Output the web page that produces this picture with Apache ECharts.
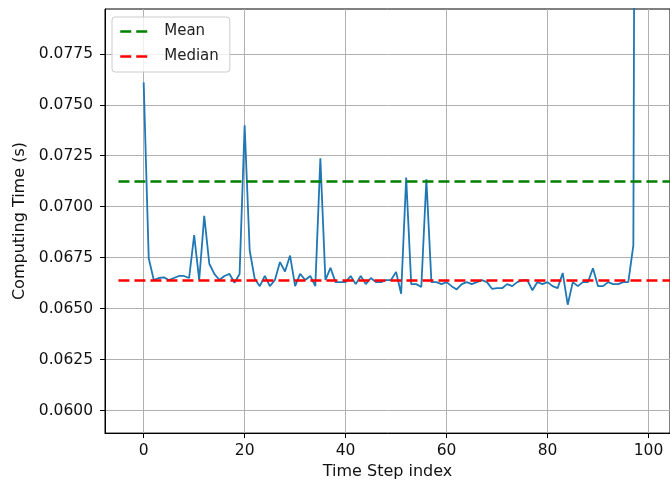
<!DOCTYPE html>
<html>
<head>
<meta charset="utf-8">
<script src="https://cdn.jsdelivr.net/npm/echarts@6/dist/echarts.min.js"></script>
<style>html,body{margin:0;padding:0;background:#fff}#c{width:670px;height:485px}</style>
</head>
<body>
<div id="c"></div>
<script>
// Computing time per time step
const timeSteps = [];
const computingTime = [
  0.0761, 0.06747, 0.0664, 0.0665, 0.06653, 0.0664, 0.0665, 0.0666, 0.0666, 0.0665,
  0.0686, 0.0664, 0.06955, 0.0672, 0.0667, 0.0664, 0.0666, 0.0667, 0.06627, 0.0667,
  0.0740, 0.06785, 0.06646, 0.0661, 0.0666, 0.0661, 0.0664, 0.06728, 0.06682, 0.0676,
  0.0661, 0.0667, 0.0664, 0.0666, 0.0661, 0.07237, 0.0664, 0.0670, 0.0663, 0.0663,
  0.0663, 0.0666, 0.0662, 0.0666, 0.0662, 0.0665, 0.0663, 0.0663, 0.0664, 0.0664,
  0.0668, 0.06573, 0.07143, 0.0662, 0.0662, 0.06606, 0.07135, 0.0663, 0.0663, 0.0662,
  0.0663, 0.0661, 0.06594, 0.0662, 0.0663, 0.0662, 0.0663, 0.0664, 0.0663, 0.06597,
  0.0660, 0.0660, 0.0662, 0.0661, 0.0663, 0.0664, 0.0664, 0.0659, 0.0663, 0.0662,
  0.0663, 0.0661, 0.0660, 0.06675, 0.06519, 0.0663, 0.0661, 0.0663, 0.0663, 0.06698,
  0.0661, 0.0661, 0.0663, 0.0662, 0.0662, 0.0663, 0.0663, 0.0681, 0.15
];
for (let i = 0; i < computingTime.length; i++) timeSteps.push(i);
const meanValue = 0.07123;
const medianValue = 0.06638;
const refLineX = [-5, 200];
const xTicks = [0, 20, 40, 60, 80, 100];
const yTicks = [0.0600, 0.0625, 0.0650, 0.0675, 0.0700, 0.0725, 0.0750, 0.0775];

const chart = echarts.init(document.getElementById('c'), null, {renderer: 'canvas'});
const font = 'DejaVu Sans';
const mainData = timeSteps.map((t, i) => [t, computingTime[i]]);
const meanData = refLineX.map(x => [x, meanValue]);
const medianData = refLineX.map(x => [x, medianValue]);

chart.setOption({
  animation: false,
  backgroundColor: '#ffffff',
  grid: {left: 105, right: -5, top: 9, bottom: 50, show: true, borderColor: '#000', borderWidth: 1, backgroundColor: 'transparent'},
  legend: {
    orient: 'vertical', left: 112, top: 17,
    data: ['Mean', 'Median'],
    itemWidth: 30, itemHeight: 14, itemGap: 10,
    padding: [7, 11, 8, 7],
    borderColor: '#cccccc', borderWidth: 1, borderRadius: 3,
    backgroundColor: 'rgba(255,255,255,0.8)',
    itemStyle: {opacity: 0},
    lineStyle: {type: [11, 5], width: 2.5},
    textStyle: {fontFamily: font, fontSize: 15, color: '#222', padding: [0, 0, 0, 9]}
  },
  xAxis: {
    type: 'value', min: -7.66, max: 104.26,
    name: 'Time Step index', nameLocation: 'middle', nameGap: 30,
    nameTextStyle: {fontFamily: font, fontSize: 16, color: '#111'},
    axisLine: {show: true, onZero: false, lineStyle: {color: '#000', width: 1}},
    axisTick: {show: true, length: 5, customValues: xTicks, lineStyle: {color: '#000'}},
    axisLabel: {customValues: xTicks, fontFamily: font, fontSize: 15.5, color: '#111', margin: 10},
    splitLine: {show: true, lineStyle: {color: '#b0b0b0', width: 1}}
  },
  yAxis: {
    type: 'value', min: 0.05889, max: 0.0797,
    name: 'Computing Time (s)', nameLocation: 'middle', nameGap: 77, nameRotate: 90,
    nameTextStyle: {fontFamily: font, fontSize: 16, color: '#111'},
    axisLine: {show: true, onZero: false, lineStyle: {color: '#000', width: 1}},
    axisTick: {show: true, length: 5, customValues: yTicks, lineStyle: {color: '#000'}},
    axisLabel: {customValues: yTicks, fontFamily: font, fontSize: 15.5, color: '#111', margin: 12,
      formatter: v => v.toFixed(4)},
    splitLine: {show: true, lineStyle: {color: '#b0b0b0', width: 1}}
  },
  series: [
    {type: 'line', name: 'time', data: mainData, showSymbol: false, symbol: 'none',
      lineStyle: {color: '#1f77b4', width: 1.8}, itemStyle: {color: '#1f77b4'}, clip: true, z: 2},
    {type: 'line', name: 'Mean', data: meanData, showSymbol: false, symbol: 'none',
      lineStyle: {color: '#008000', width: 2.5, type: [11, 5]}, itemStyle: {color: '#008000'}, clip: true, z: 3},
    {type: 'line', name: 'Median', data: medianData, showSymbol: false, symbol: 'none',
      lineStyle: {color: '#ff0000', width: 2.5, type: [11, 5]}, itemStyle: {color: '#ff0000'}, clip: true, z: 4}
  ]
});
</script>
</body>
</html>
